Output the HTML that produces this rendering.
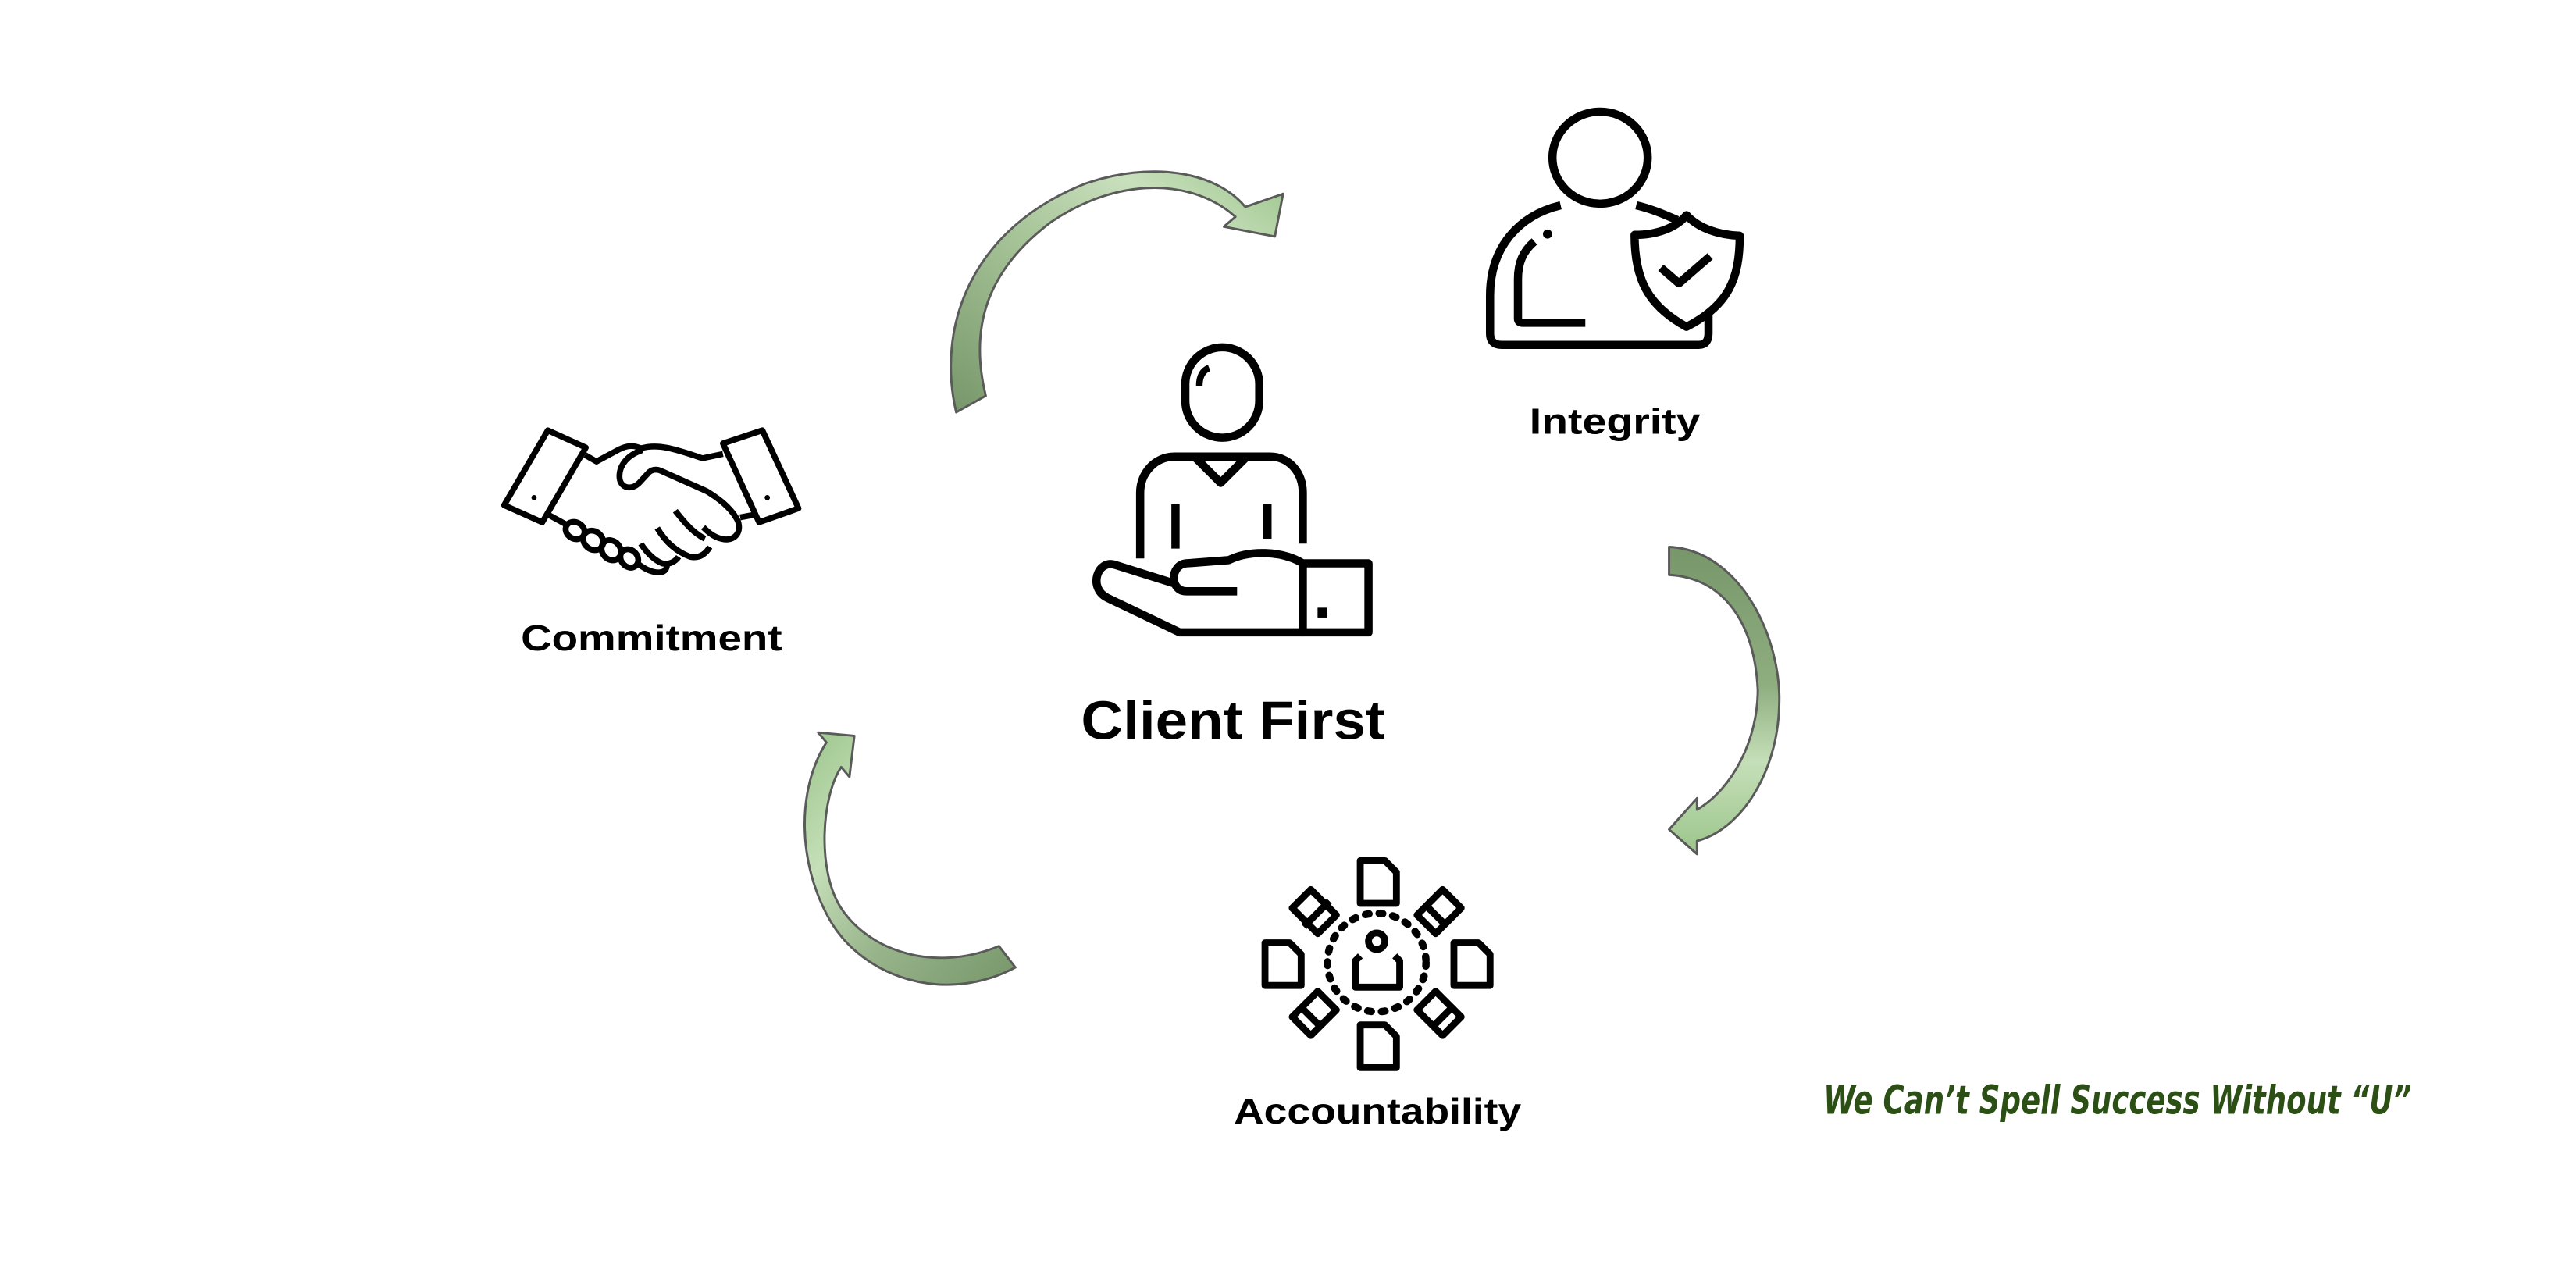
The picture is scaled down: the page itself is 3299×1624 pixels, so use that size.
<!DOCTYPE html>
<html><head><meta charset="utf-8"><style>
html,body{margin:0;padding:0;background:#fff;}
svg{display:block;}
</style></head><body>
<svg width="3299" height="1624" viewBox="0 0 1568 772" xmlns="http://www.w3.org/2000/svg">
<defs>
<linearGradient id="g1" x1="0" y1="1" x2="1" y2="0">
<stop offset="0" stop-color="#77976a"/><stop offset="0.5" stop-color="#aac79c"/><stop offset="0.75" stop-color="#c9e0bd"/><stop offset="1" stop-color="#9cc58c"/></linearGradient>
<linearGradient id="g2" x1="0" y1="0" x2="0" y2="1">
<stop offset="0" stop-color="#77976a"/><stop offset="0.45" stop-color="#8fae80"/><stop offset="0.7" stop-color="#c5dfb8"/><stop offset="1" stop-color="#9cc58c"/></linearGradient>
<linearGradient id="g3" x1="0" y1="0" x2="1" y2="1">
<stop offset="0" stop-color="#9cc58c"/><stop offset="0.3" stop-color="#c5dfb8"/><stop offset="0.6" stop-color="#98b48b"/><stop offset="1" stop-color="#77976a"/></linearGradient>
</defs>
<g stroke="#5a5a5a" stroke-width="1.4" stroke-linejoin="round">
<path fill="url(#g1)" d="M582,251 C570,200 590,140 660,112 C700,98 740,104 758,126 L781,118 L776,144 L745,138 L752,132 C725,108 680,108 640,135 C600,165 590,200 600,241 Z"/>
<path fill="url(#g2)" d="M1016,333 C1060,335 1085,390 1083,430 C1082,470 1060,505 1033,512 L1033,520 L1016,505 L1033,486 L1033,493 C1055,480 1070,450 1070,420 C1068,380 1050,352 1016,350 Z"/>
<path fill="url(#g3)" d="M498,446 L520,448 L517,473 L512,467 C500,485 497,530 512,553 C530,580 570,592 608,576 L618,589 C575,612 525,595 505,560 C485,525 485,480 503,452 Z"/>
</g>
<g fill="none" stroke="#000" stroke-width="5" stroke-linecap="butt" stroke-linejoin="round">
<rect x="721.5" y="211.5" width="45" height="55" rx="22.5"/>
<path d="M736,224 C731,226 730,231 730,235" stroke-width="4"/>
<path d="M694,340 L694,300 C694,288 703,278 715,278 L773,278 C785,278 793,288 793,300 L793,331"/>
<path d="M727,278 L743,294 L759,278"/>
<path d="M715.5,307 L715.5,334 M771.5,307 L771.5,328"/>
<path d="M793,343 L833,343 L833,385 L793,385 Z M793,343 L793,385"/>
<rect x="802" y="370" width="6" height="6" fill="#000" stroke="none"/>
<path d="M793,343 C780,335 760,335 748,341 L722,343 C712,344 712,360 722,360 L753,360"/>
<path d="M714,355 L679,344 C668,340 662,358 674,364 L718,385 L793,385"/>
<ellipse cx="974" cy="96" rx="29" ry="28"/>
<path d="M950,125 C925,131 907,150 907,180 L907,203 Q907,210 914,210 L1034,210 Q1040,210 1040,203 L1040,191"/>
<path d="M996,125 C1005,127 1014,131 1021,134"/>
<path d="M934,147 C927,153 924,160 924,170 L924,194 Q924,196.5 927,196.5 L965,196.5"/>
<circle cx="942" cy="142.5" r="2.8" fill="#000" stroke="none"/>
<path fill="#fff" d="M1026.6,131 C1034,139 1046,143 1059,143.5 C1059,170 1052,186 1026.6,199 C1003,186 995,170 995,143 C1008,143 1020,139 1026.6,131 Z"/>
<path d="M1011,163 L1022,172.5 L1041,156"/>
<g stroke-width="3.6">
<path d="M333.4,262 L356.5,272.5 L330,318 L306.8,307.6 Z"/>
<path d="M440,270 L464,262 L486,309.5 L462,318 Z"/>
<path d="M356,277 L363,281 L377,273.5 C382,271 386,271 390,273"/>
<path d="M390,273 C400,270 410,273 427.5,279 L440,276.4"/>
<path d="M391,274 C382,277 377,283 377,290 C377,297 384,299 389,294 L395,287.5 C398,285 401,286 403,287 L430,299 C440,305 446,311 449,317 C452,325 446,330 439,328 C434,327 430,323 428,321"/>
<path d="M411,311 C418,320 423,325 429,328"/>
<path d="M400,321.5 C405,330 412,336 420,339 C425,340 429,338 432,333"/>
<path d="M390,331 C394,337 398,341 403,343 C407,344 411,342 413,339"/>
<path d="M333,313 L344,319"/>
<path d="M388,343 C393,347 397,348.5 401,348.5 C405,348.5 406,346 406,343"/>
<path d="M450.5,315 L458.5,313.5"/>
<ellipse cx="350" cy="323" rx="6" ry="5" transform="rotate(30 350 323)"/>
<ellipse cx="361" cy="329" rx="6.5" ry="5.5" transform="rotate(40 361 329)"/>
<ellipse cx="372" cy="335" rx="6.5" ry="5.5" transform="rotate(50 372 335)"/>
<ellipse cx="383" cy="340" rx="6" ry="5" transform="rotate(50 383 340)"/>
</g>
<circle cx="325" cy="303" r="1.6" fill="#000" stroke="none"/>
<circle cx="467" cy="303" r="1.6" fill="#000" stroke="none"/>
<g stroke-width="4.2">
<circle cx="838" cy="586" r="30" stroke-dasharray="2.2 6.2" stroke-linecap="round" stroke-width="4.5"/>
<circle cx="838" cy="573" r="5"/>
<path d="M828,582 L825,585 L825,601 L852,601 L852,585 L849,582"/>
<path d="M828,524 L843,524 L850,531 L850,550 L828,550 Z"/>
<path d="M828,624 L843,624 L850,631 L850,650 L828,650 Z"/>
<path d="M770,574 L785,574 L792,581 L792,600 L770,600 Z"/>
<path d="M885,574 L900,574 L907,581 L907,600 L885,600 Z"/>
<g transform="translate(800,555) rotate(45)"><rect x="-11" y="-8" width="22" height="16"/><path d="M-11,-2 L11,-2" transform="rotate(90)"/></g>
<g transform="translate(876,555) rotate(-45)"><rect x="-11" y="-8" width="22" height="16"/><path d="M-3,-8 L-3,8"/></g>
<g transform="translate(800,617) rotate(-45)"><rect x="-11" y="-8" width="22" height="16"/><path d="M-3,-8 L-3,8"/></g>
<g transform="translate(876,617) rotate(45)"><rect x="-11" y="-8" width="22" height="16"/><path d="M3,-8 L3,8"/></g>
</g>
</g>
<g font-family="Liberation Sans, sans-serif" font-weight="bold" fill="#000">
<text x="658" y="450" font-size="33" textLength="185" lengthAdjust="spacingAndGlyphs">Client First</text>
<text x="931" y="264" font-size="22" textLength="104" lengthAdjust="spacingAndGlyphs">Integrity</text>
<text x="317" y="396" font-size="22" textLength="159" lengthAdjust="spacingAndGlyphs">Commitment</text>
<text x="751" y="684" font-size="22" textLength="175" lengthAdjust="spacingAndGlyphs">Accountability</text>
</g>
<text x="1110" y="678" font-family="DejaVu Sans Condensed, DejaVu Sans, sans-serif" font-style="italic" font-weight="bold" font-size="24" fill="#2b4f14" textLength="358" lengthAdjust="spacingAndGlyphs">We Can’t Spell Success Without “U”</text>
</svg>
</body></html>
